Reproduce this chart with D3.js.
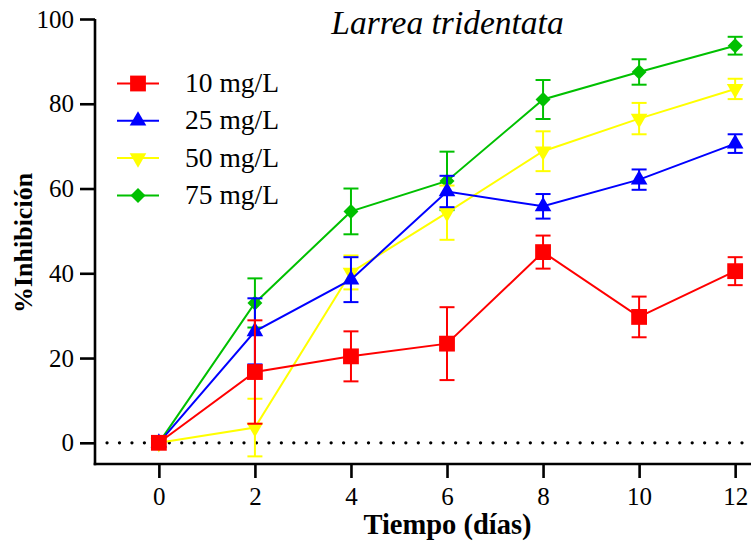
<!DOCTYPE html>
<html>
<head>
<meta charset="utf-8">
<script src="https://cdn.jsdelivr.net/npm/d3@7"></script>
</head>
<body style="margin:0">
<svg id="chart" width="751" height="546" font-family="Liberation Serif"></svg>
<script>
const SERIF = "Liberation Serif";

// Sampling days
const days = [0, 2, 4, 6, 8, 10, 12];

// Mean % inhibition per concentration
const mean10 = [0, 16.7, 20.4, 23.4, 45.0, 29.7, 40.5];
const mean25 = [0, 26.3, 38.5, 59.3, 55.8, 62.1, 70.6];
const mean50 = [0, 3.6, 40.2, 54.3, 68.8, 76.5, 83.5];
const mean75 = [0, 33.0, 54.6, 61.8, 81.0, 87.5, 93.7];

// Error (SD) per concentration
const err10 = [0, 12.2, 5.9, 8.6, 3.9, 4.8, 3.3];
const err25 = [0, 7.8, 5.3, 3.7, 2.9, 2.4, 2.2];
const err50 = [0, 6.8, 4.0, 6.4, 4.7, 3.7, 2.4];
const err75 = [0, 5.8, 5.4, 6.9, 4.6, 3.0, 2.1];

const seriesNames = ["10 mg/L", "25 mg/L", "50 mg/L", "75 mg/L"];
const seriesColors = ["#ff0000", "#0000ff", "#ffff00", "#00c000"];
const seriesSymbols = ["square", "triangleUp", "triangleDown", "diamond"];

const xTicks = [0, 2, 4, 6, 8, 10, 12];
const yTicks = [0, 20, 40, 60, 80, 100];

const title = "Larrea tridentata";
const xLabel = "Tiempo (días)";
const yLabel = "%Inhibición";

const series = seriesNames.map((name, i) => ({
  name,
  color: seriesColors[i],
  symbol: seriesSymbols[i],
  values: days.map((d, j) => ({
    x: d,
    y: [mean10, mean25, mean50, mean75][i][j],
    e: [err10, err25, err50, err75][i][j]
  }))
}));

const svg = d3.select("#chart");
const x = d3.scaleLinear().domain([-1.33, 12.33]).range([95, 751]);
const y = d3.scaleLinear().domain([-5, 100]).range([464, 19]);

// Marker shapes: square, up/down triangles and a square turned 45° as diamond
const markers = {
  square:       { path: d3.symbol(d3.symbolSquare, 250)(),   rot: 0 },
  triangleUp:   { path: d3.symbol(d3.symbolTriangle, 120)(), rot: 0 },
  triangleDown: { path: d3.symbol(d3.symbolTriangle, 120)(), rot: 180 },
  diamond:      { path: d3.symbol(d3.symbolSquare, 112)(),   rot: 45 }
};
function markerTransform(sym, cx, cy) {
  return `translate(${cx},${cy}) rotate(${markers[sym].rot})`;
}

// Dotted zero reference line
svg.append("line")
  .attr("x1", 107).attr("x2", 751)
  .attr("y1", y(0)).attr("y2", y(0))
  .attr("stroke", "#000").attr("stroke-width", 3.2)
  .attr("stroke-linecap", "round")
  .attr("stroke-dasharray", "0.1 12.35");

// Axes
const xAxis = d3.axisBottom(x).tickValues(xTicks).tickSize(14).tickSizeOuter(0).tickPadding(9);
const yAxis = d3.axisLeft(y).tickValues(yTicks).tickSize(15).tickSizeOuter(0).tickPadding(6);

const gx = svg.append("g").attr("transform", `translate(0,${y(-5)})`).call(xAxis);
const gy = svg.append("g").attr("transform", `translate(${x(-1.33)},0)`).call(yAxis);
[gx, gy].forEach(g => {
  g.attr("font-family", SERIF).attr("font-size", 25);
  g.select(".domain").attr("stroke", "#000").attr("stroke-width", 2.6);
  g.selectAll(".tick line").attr("stroke", "#000").attr("stroke-width", 2.6);
  g.selectAll(".tick text").attr("fill", "#000");
});
gy.select(".domain").attr("d", `M0,${y(100)}V${y(-5) + 1.3}`);
gx.select(".domain").attr("d", `M${x(-1.33) - 1.3},0H751`);

// Series, drawn from highest concentration so 10 mg/L sits on top
const plot = svg.append("g");
const line = d3.line().x(d => x(d.x)).y(d => y(d.y));
series.slice().reverse().forEach(s => {
  const g = plot.append("g");
  g.append("path").datum(s.values)
    .attr("d", line).attr("fill", "none")
    .attr("stroke", s.color).attr("stroke-width", 2);
  const eb = g.selectAll(".eb").data(s.values.filter(d => d.e > 0)).enter().append("g");
  eb.append("line")
    .attr("x1", d => x(d.x)).attr("x2", d => x(d.x))
    .attr("y1", d => y(d.y - d.e)).attr("y2", d => y(d.y + d.e))
    .attr("stroke", s.color).attr("stroke-width", 2);
  [-1, 1].forEach(sgn => {
    eb.append("line")
      .attr("x1", d => x(d.x) - 7.5).attr("x2", d => x(d.x) + 7.5)
      .attr("y1", d => y(d.y + sgn * d.e)).attr("y2", d => y(d.y + sgn * d.e))
      .attr("stroke", s.color).attr("stroke-width", 2);
  });
  g.selectAll(".pt").data(s.values).enter().append("path")
    .attr("d", markers[s.symbol].path)
    .attr("transform", d => markerTransform(s.symbol, x(d.x), y(d.y)))
    .attr("fill", s.color);
});

// Legend
const legend = svg.append("g");
series.forEach((s, i) => {
  const ly = 83.5 + i * 37.3;
  legend.append("line")
    .attr("x1", 117).attr("x2", 159).attr("y1", ly).attr("y2", ly)
    .attr("stroke", s.color).attr("stroke-width", 2);
  legend.append("path")
    .attr("d", markers[s.symbol].path)
    .attr("transform", markerTransform(s.symbol, 138, ly))
    .attr("fill", s.color);
  legend.append("text")
    .attr("x", 185).attr("y", ly + 8.5)
    .attr("font-family", SERIF)
    .attr("font-size", 27.5)
    .text(s.name);
});

// Title and axis labels
svg.append("text")
  .attr("x", 447.5).attr("y", 34)
  .attr("text-anchor", "middle")
  .attr("font-family", SERIF)
  .attr("font-size", 33.5).attr("font-style", "italic")
  .text(title);

svg.append("text")
  .attr("x", 447.5).attr("y", 534)
  .attr("text-anchor", "middle")
  .attr("font-family", SERIF)
  .attr("font-size", 28.5).attr("font-weight", "bold")
  .text(xLabel);

svg.append("text")
  .attr("transform", "translate(32,243) rotate(-90)")
  .attr("text-anchor", "middle")
  .attr("font-family", SERIF)
  .attr("font-size", 26).attr("font-weight", "bold")
  .text(yLabel);
</script>
</body>
</html>
